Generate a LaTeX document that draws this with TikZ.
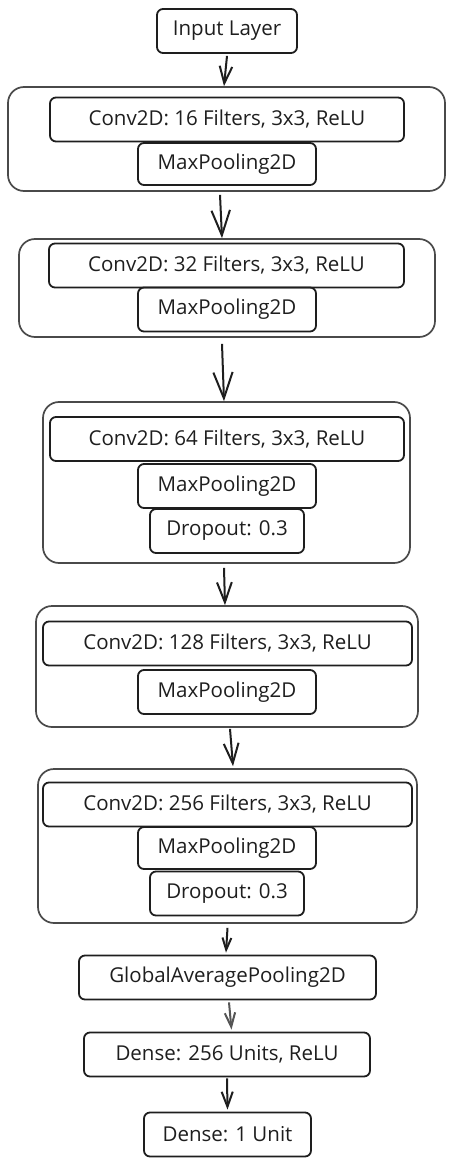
\documentclass[tikz,border=0pt]{standalone}
\usepackage{fontspec}
\setmainfont{Open Sans}
\usetikzlibrary{arrows.meta}
\definecolor{ink}{HTML}{1E1E1E}
\definecolor{frame}{HTML}{4A4A4A}
\definecolor{faint}{HTML}{555555}
\tikzset{
  layer/.style={draw=ink, text=ink, line width=1.8pt, rounded corners=6pt, inner sep=0pt,
    minimum height=44pt, font=\fontsize{20.5}{22}\selectfont},
  block/.style={draw=frame, line width=1.7pt, rounded corners=16pt, inner sep=0pt},
  flow/.style={draw=ink, line width=2pt,
    -{Straight Barb[length=#1, width'=0pt 0.74, line width=2pt]}},
  flow/.default=15pt,
}
\begin{document}
\begin{tikzpicture}[x=1pt,y=-1pt]
  \useasboundingbox (0,0) rectangle (454,1166);

  % stage frames
  \begin{scope}[every node/.style={block}]
    \node[minimum width=437pt, minimum height=104pt] (g1) at (226.5,139)   {};
    \node[minimum width=416pt, minimum height=98pt]  (g2) at (227,288)     {};
    \node[minimum width=367pt, minimum height=161pt] (g3) at (226.5,482.5) {};
    \node[minimum width=382pt, minimum height=121pt] (g4) at (227,666.5)   {};
    \node[minimum width=379pt, minimum height=154pt] (g5) at (227.5,846)   {};
  \end{scope}

  % layers
  \begin{scope}[every node/.style={layer}]
    \node[minimum width=140pt] (input) at (227,31)      {Input Layer};

    \node[minimum width=354pt] (conv1) at (227,119.5)   {Conv2D: 16 Filters, 3x3, ReLU};
    \node[minimum width=178pt, minimum height=42pt] (pool1) at (227,164) {MaxPooling2D};

    \node[minimum width=355pt] (conv2) at (226.5,265.5) {Conv2D: 32 Filters, 3x3, ReLU};
    \node[minimum width=178pt] (pool2) at (227,309.5)   {MaxPooling2D};

    \node[minimum width=354pt] (conv3) at (227,439)     {Conv2D: 64 Filters, 3x3, ReLU};
    \node[minimum width=178pt] (pool3) at (227,486)     {MaxPooling2D};
    \node[minimum width=154pt] (drop3) at (227,531)     {Dropout: 0.3};

    \node[minimum width=369pt] (conv4) at (227.5,643.5) {Conv2D: 128 Filters, 3x3, ReLU};
    \node[minimum width=178pt] (pool4) at (227,692)     {MaxPooling2D};

    \node[minimum width=369pt] (conv5) at (227.5,804.5) {Conv2D: 256 Filters, 3x3, ReLU};
    \node[minimum width=178pt, minimum height=42pt] (pool5) at (227,848) {MaxPooling2D};
    \node[minimum width=154pt] (drop5) at (227,893.5)   {Dropout: 0.3};

    \node[minimum width=297pt] (gap)   at (227.5,977.5)  {GlobalAveragePooling2D};
    \node[minimum width=286pt] (dense) at (227,1054.5)   {Dense: 256 Units, ReLU};
    \node[minimum width=167pt] (out)   at (227.5,1134.5) {Dense: 1 Unit};
  \end{scope}

  % connectors
  \path ([yshift=-2pt]input.south) edge[flow=17pt] ([xshift=-2.5pt]g1.north);
  \path ([xshift=-6.5pt,yshift=-3pt]g1.south) edge[flow=25pt] ([xshift=-5pt]g2.north);
  \path ([xshift=-5pt,yshift=-6pt]g2.south) edge[flow=26pt] ([xshift=-2.5pt]g3.north);
  \path ([xshift=-2.5pt,yshift=-4pt]g3.south) edge[flow=20pt] ([xshift=-2pt]g4.north);
  \path ([xshift=3pt,yshift=-1pt]g4.south) edge[flow=20pt] ([xshift=5.5pt,yshift=2pt]g5.north);
  \path ([yshift=-4pt]g5.south) edge[flow=12pt] ([xshift=-1.5pt,yshift=2pt]gap.north);
  \path ([xshift=1.5pt,yshift=-2pt]gap.south) edge[flow=14pt, draw=faint] ([xshift=4.5pt,yshift=2pt]dense.north);
  \path ([yshift=-1pt]dense.south) edge[flow=15pt] ([yshift=2pt]out.north);

\end{tikzpicture}
\end{document}
